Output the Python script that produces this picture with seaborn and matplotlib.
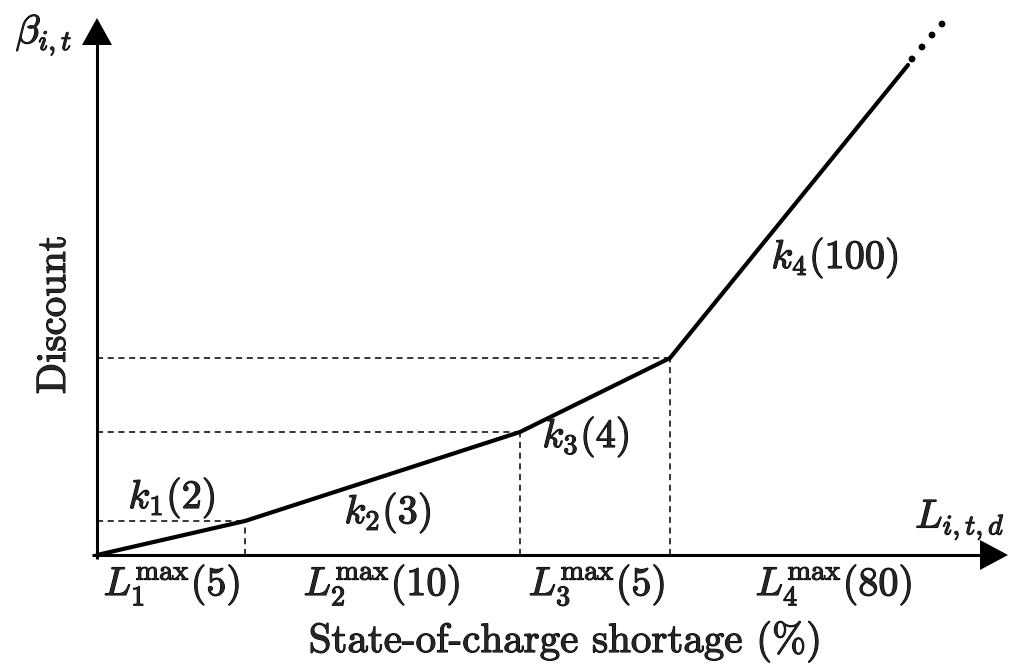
import matplotlib
matplotlib.use("Agg")
import matplotlib.pyplot as plt
import matplotlib.patheffects as pe
import seaborn as sns
import pandas as pd

# ---- data (schematic coordinates, origin at the axes corner) ----
break_x = [0, 148, 423, 573, 811]
break_y = [0, 34, 123, 197, 490]
dots_x = [815, 825, 835, 845]
dots_y = [496, 508, 520, 531]
seg_labels = [r"$k_1(2)$", r"$k_2(3)$", r"$k_3(4)$", r"$k_4(100)$"]
len_labels = [r"$L_1^{\max}(5)$", r"$L_2^{\max}(10)$", r"$L_3^{\max}(5)$", r"$L_4^{\max}(80)$"]
x_title = "State-of-charge shortage (%)"
y_title = "Discount"
x_sym = r"$L_{i,t,d}$"
y_sym = r"$\beta_{i,t}$"

sns.set_theme(style="white")
plt.rcParams["font.family"] = ["cmr10", "DejaVu Serif"]
plt.rcParams["mathtext.fontset"] = "cm"
plt.rcParams["axes.unicode_minus"] = False

fig = plt.figure(figsize=(10.25, 6.66), dpi=100)
ax = fig.add_axes([0, 0, 1, 1])
ax.axis("off")

# axes with arrowheads
ax.plot([-5, 890], [0, 0], color="black", lw=2.2, solid_capstyle="butt")
ax.fill([883, 911, 883], [15, 0, -15], color="black", lw=0)
ax.plot([0, 0], [-4, 515], color="black", lw=2.2, solid_capstyle="butt")
ax.fill([-15, 0, 15], [510, 537, 510], color="black", lw=0)

# dashed guides
for bx, by in zip(break_x[1:4], break_y[1:4]):
    ax.plot([0, bx], [by, by], color="black", lw=1.1, ls=(0, (4, 3)))
    ax.plot([bx, bx], [0, by], color="black", lw=1.1, ls=(0, (4, 3)))

# main piecewise curve
df = pd.DataFrame({"x": break_x, "y": break_y})
sns.lineplot(data=df, x="x", y="y", sort=False, color="black", lw=3.0, ax=ax,
             estimator=None)
sns.scatterplot(x=dots_x, y=dots_y, color="black", s=24, edgecolor="none", ax=ax)
ax.set_xlabel("")
ax.set_ylabel("")
ax.set_xlim(-97, 928)
ax.set_ylim(-111, 555)

heavy = [pe.withStroke(linewidth=0.8, foreground="black")]
fs = 29
seg_pos = [(75, 57), (291, 42), (489, 118), (738, 297)]
for (px, py), t in zip(seg_pos, seg_labels):
    ax.text(px, py, t, fontsize=fs, ha="center", va="center", path_effects=heavy)

len_x = [75, 285, 500, 737]
for px, t in zip(len_x, len_labels):
    ax.text(px, -30, t, fontsize=fs, ha="center", va="center", path_effects=heavy)

ax.text(468, -87, x_title, fontsize=29.5, ha="center", va="center", path_effects=heavy)
ax.text(-42, 240, y_title, fontsize=29.5, ha="center", va="center", rotation=90,
        path_effects=heavy)
ax.text(863, 35, x_sym, fontsize=fs, ha="center", va="center", path_effects=heavy)
ax.text(-53, 520, y_sym, fontsize=fs, ha="center", va="center", path_effects=heavy)

fig.savefig("out.png", dpi=100)
